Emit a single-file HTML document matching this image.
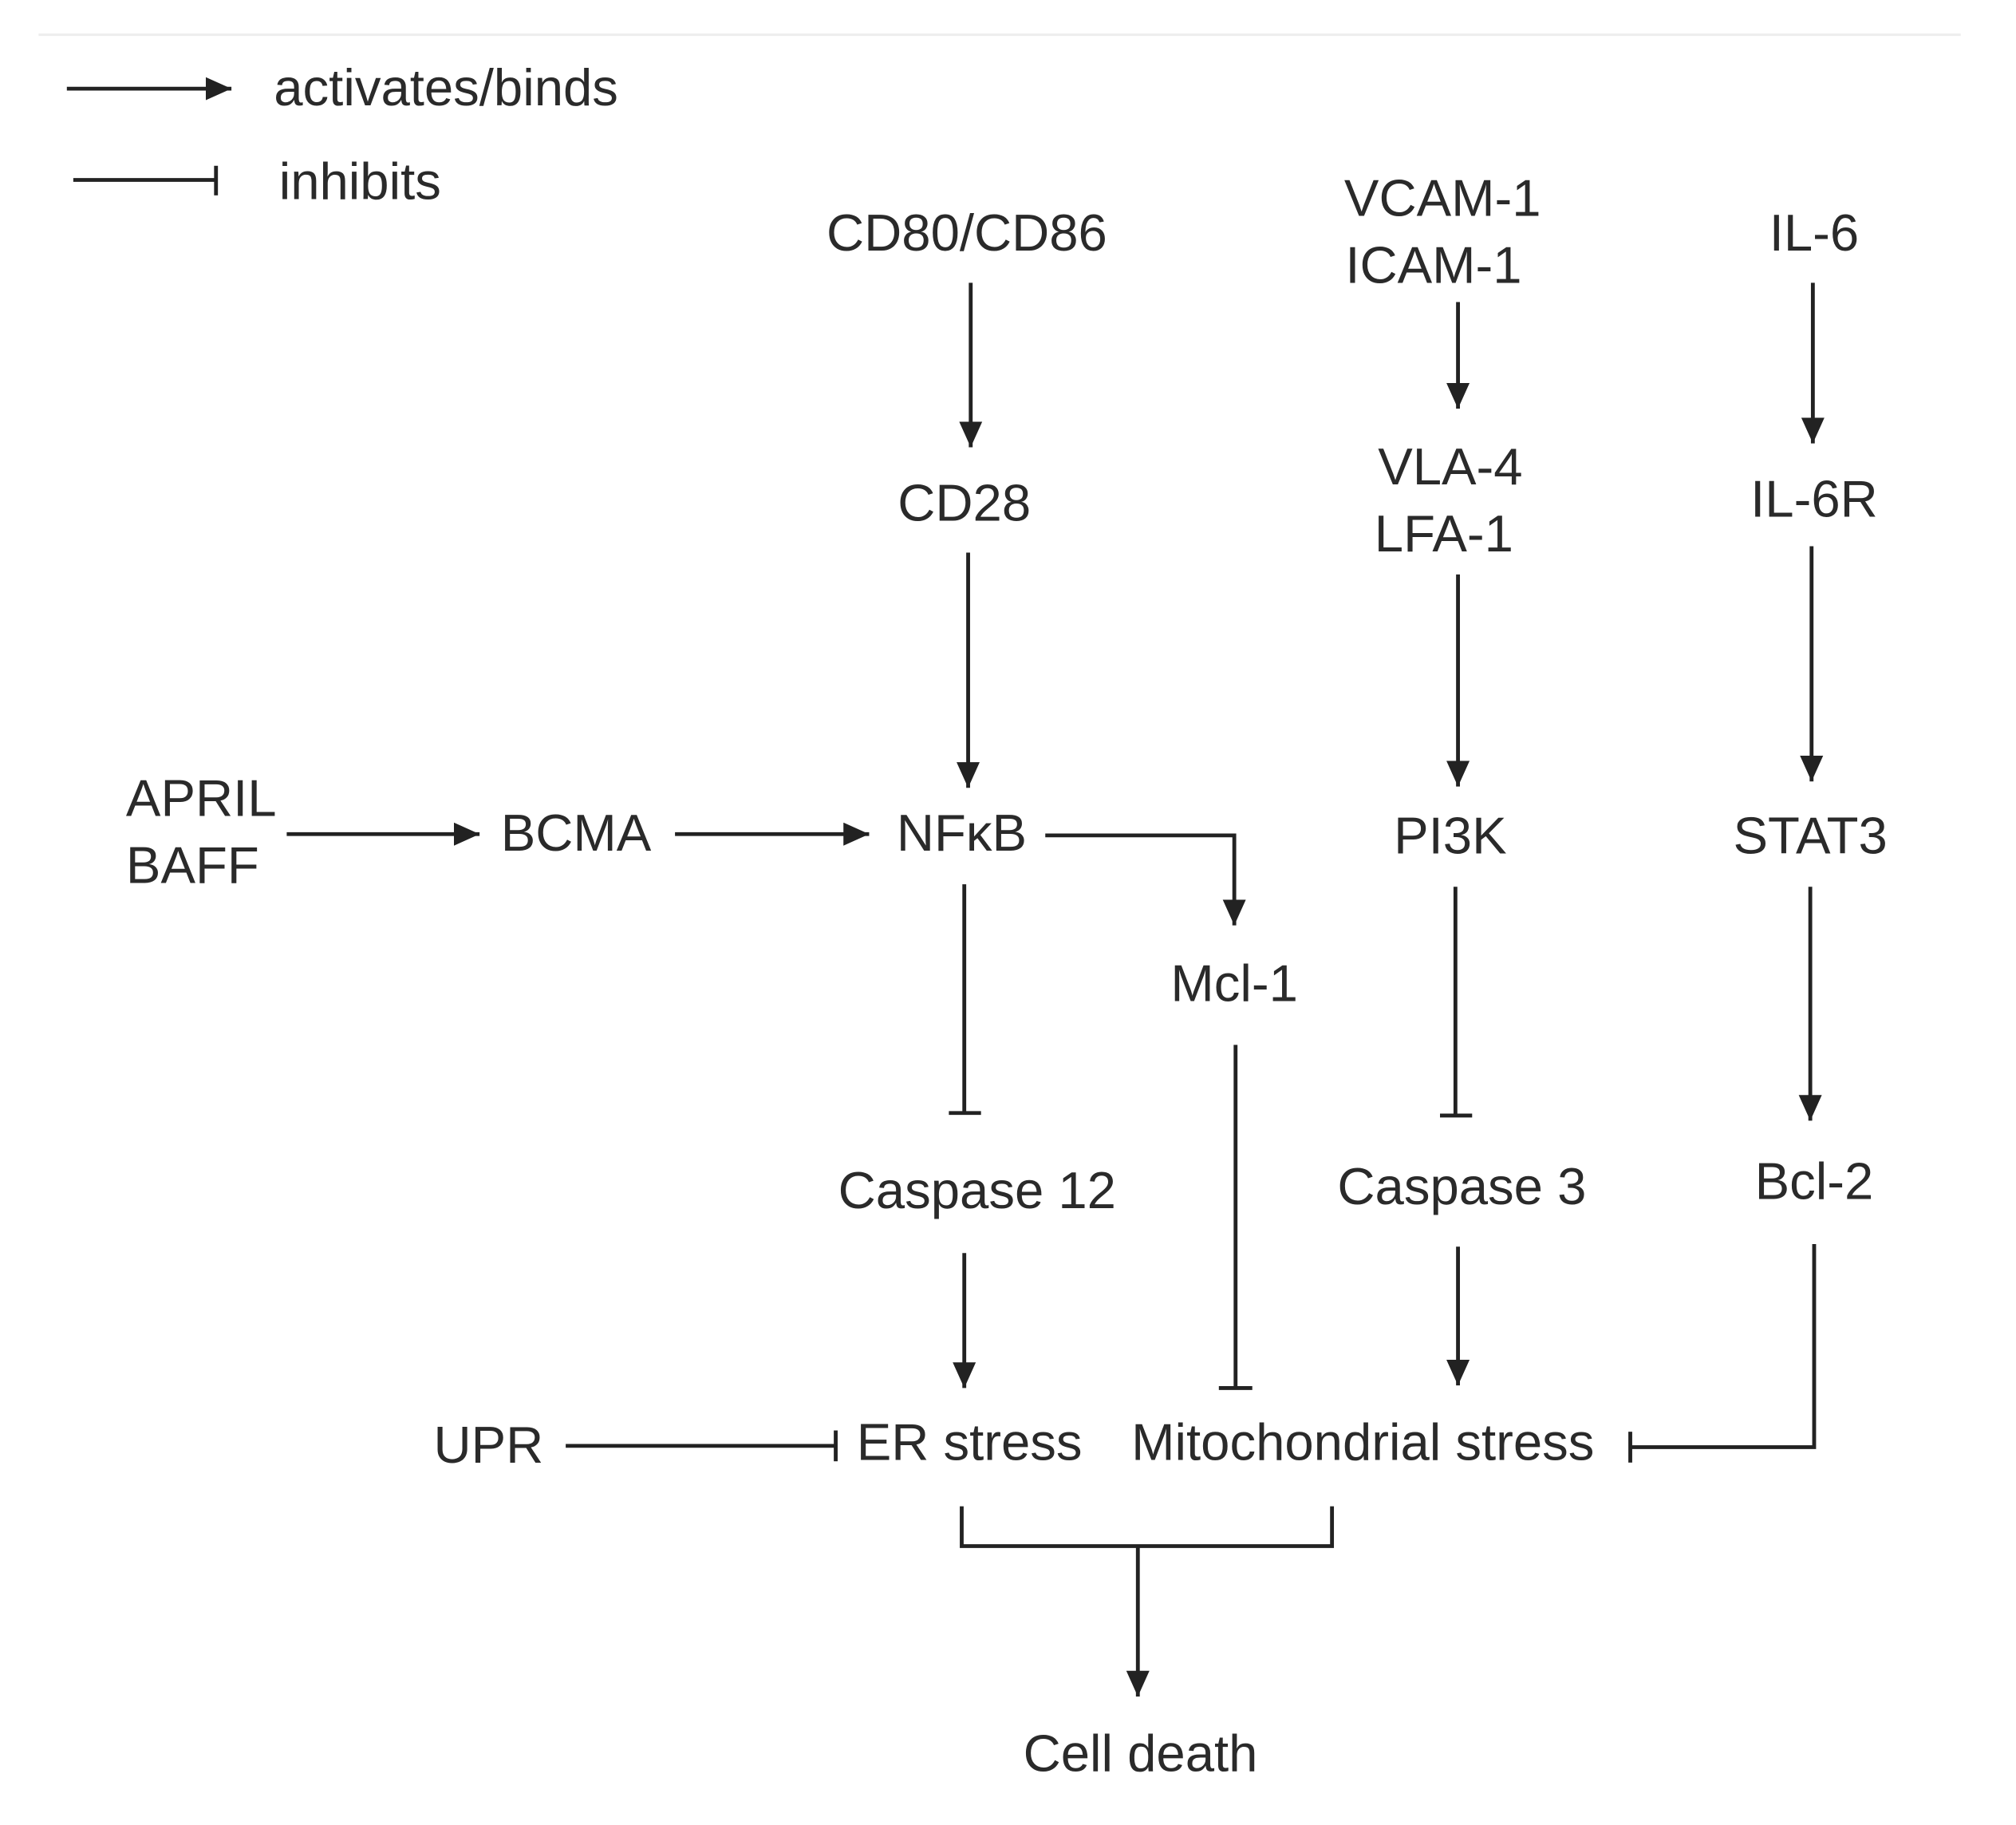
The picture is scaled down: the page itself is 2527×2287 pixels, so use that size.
<!DOCTYPE html>
<html><head><meta charset="utf-8"><style>
html,body{margin:0;padding:0;background:#fff;}
svg{display:block;}
text{font-family:"Liberation Sans",Arial,sans-serif;font-size:40.5px;fill:#2a2a2a;}
</style></head><body>
<svg width="2527" height="2287" viewBox="0 0 1568 1420" preserveAspectRatio="none" xmlns="http://www.w3.org/2000/svg">
<defs>
<marker id="a" markerUnits="userSpaceOnUse" markerWidth="22" markerHeight="20" refX="20" refY="9" orient="auto">
<path d="M0,0 L20,9 L0,18 Z" fill="#222"/></marker>
</defs>
<line x1="30" y1="27" x2="1525" y2="27" stroke="#eee" stroke-width="2"/>
<g stroke="#222" stroke-width="3" fill="none">
<line x1="52" y1="69" x2="180" y2="69" marker-end="url(#a)"/>
<line x1="57" y1="140" x2="168" y2="140"/><line x1="168" y1="129" x2="168" y2="152"/>
<line x1="755" y1="220" x2="755" y2="348" marker-end="url(#a)"/>
<line x1="753" y1="430" x2="753" y2="613" marker-end="url(#a)"/>
<line x1="1134" y1="235" x2="1134" y2="318" marker-end="url(#a)"/>
<line x1="1134" y1="447" x2="1134" y2="612" marker-end="url(#a)"/>
<line x1="1410" y1="220" x2="1410" y2="345" marker-end="url(#a)"/>
<line x1="1409" y1="425" x2="1409" y2="608" marker-end="url(#a)"/>
<line x1="223" y1="649" x2="373" y2="649" marker-end="url(#a)"/>
<line x1="525" y1="649" x2="676" y2="649" marker-end="url(#a)"/>
<polyline points="813,650 960,650 960,720" marker-end="url(#a)"/>
<line x1="1408" y1="690" x2="1408" y2="872" marker-end="url(#a)"/>
<line x1="750" y1="975" x2="750" y2="1080" marker-end="url(#a)"/>
<line x1="1134" y1="970" x2="1134" y2="1078" marker-end="url(#a)"/>
<polyline points="748,1172 748,1203 1036,1203 1036,1172"/>
<line x1="885" y1="1203" x2="885" y2="1320" marker-end="url(#a)"/>
<line x1="750" y1="688" x2="750" y2="866"/><line x1="738" y1="866" x2="763" y2="866"/>
<line x1="1132" y1="690" x2="1132" y2="868"/><line x1="1120" y1="868" x2="1145" y2="868"/>
<line x1="961" y1="813" x2="961" y2="1080"/><line x1="948" y1="1080" x2="974" y2="1080"/>
<polyline points="1411,968 1411,1126 1268,1126"/><line x1="1268" y1="1114" x2="1268" y2="1138"/>
<line x1="440" y1="1125" x2="650" y2="1125"/><line x1="650" y1="1113" x2="650" y2="1137"/>
</g>
<text x="213" y="82">activates/binds</text>
<text x="217" y="155">inhibits</text>
<g text-anchor="middle">
<text x="752" y="195">CD80/CD86</text>
<text x="750" y="405">CD28</text>
<text x="1122" y="168">VCAM-1</text>
<text x="1115" y="220">ICAM-1</text>
<text x="1128" y="377">VLA-4</text>
<text x="1123" y="429">LFA-1</text>
<text x="1411" y="195">IL-6</text>
<text x="1411" y="402">IL-6R</text>
<text x="448" y="662">BCMA</text>
<text x="748" y="662">NFκB</text>
<text x="1128" y="664">PI3K</text>
<text x="1408" y="664">STAT3</text>
<text x="960" y="779">Mcl-1</text>
<text x="760" y="940">Caspase 12</text>
<text x="1137" y="937">Caspase 3</text>
<text x="1411" y="933">Bcl-2</text>
<text x="380" y="1138">UPR</text>
<text x="754" y="1136">ER stress</text>
<text x="1060" y="1136">Mitochondrial stress</text>
<text x="887" y="1378">Cell death</text>
</g>
<text x="98" y="635">APRIL</text>
<text x="98" y="687">BAFF</text>
</svg>
</body></html>
